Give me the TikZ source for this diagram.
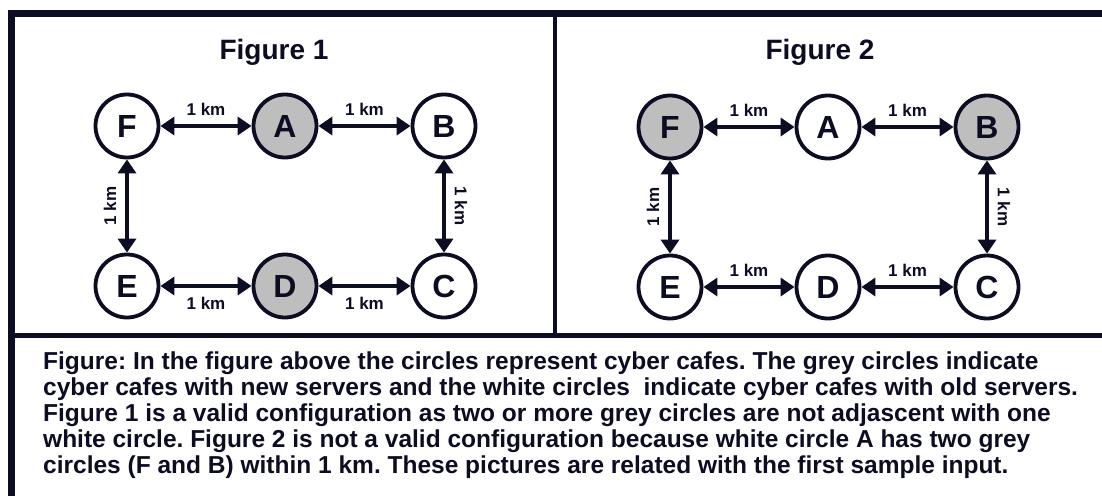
\documentclass[tikz,border=0pt]{standalone}
\usepackage{fontspec}
\setmainfont{Liberation Sans}
\usetikzlibrary{arrows.meta}
\definecolor{ink}{RGB}{12,12,34}
\definecolor{cafegrey}{RGB}{190,190,190}
\frenchspacing
\begin{document}
\begin{tikzpicture}[x=1pt,y=-1pt]
\useasboundingbox (0,0) rectangle (1102,495);
\fill[white] (0,0) rectangle (1102,495);
\tikzset{
  cafe/.style={circle, draw=ink, line width=3.8pt, minimum size=63pt, inner sep=0pt, fill=white,
    font=\fontsize{32}{32}\selectfont\bfseries, text=ink},
  greycafe/.style={cafe, fill=cafegrey},
  link/.style={draw=ink, line width=3.6pt, {Triangle[length=14pt,width=18pt]}-{Triangle[length=14pt,width=18pt]}},
  km/.style={font=\fontsize{17}{17}\selectfont\bfseries, inner sep=0pt, text=ink},
  figtitle/.style={font=\fontsize{28}{28}\selectfont\bfseries, text=ink},
  rule/.style={draw=ink}
}
% frame
\draw[rule, line width=7pt] (11,500) -- (11,13.5) -- (1108,13.5);
\draw[rule, line width=4.5pt] (555,13.5) -- (555,335);
\draw[rule, line width=5pt] (11,335) -- (1108,335);
% Figure 1
\node[figtitle] (t1) at (274,52) {Figure 1};
\node[cafe] (F1) at (127,126) {F};
\node[greycafe] (A1) at (285,126) {A};
\node[cafe] (B1) at (444,126) {B};
\node[cafe] (E1) at (127,286) {E};
\node[greycafe] (D1) at (285,286) {D};
\node[cafe] (C1) at (444,286) {C};
\draw[link] (F1) -- node[km, above=9pt] {1 km} (A1);
\draw[link] (A1) -- node[km, above=9pt] {1 km} (B1);
\draw[link] (E1) -- node[km, below=9pt] {1 km} (D1);
\draw[link] (D1) -- node[km, below=9pt] {1 km} (C1);
\draw[link] (F1) -- coordinate[midway] (m1) (E1);
\draw[link] (B1) -- coordinate[midway] (m2) (C1);
\node[km, rotate=90] (l1) at ([xshift=-17pt]m1) {1 km};
\node[km, rotate=-90] (l2) at ([xshift=17pt]m2) {1 km};
% Figure 2
\node[figtitle] (t2) at (820,52) {Figure 2};
\node[greycafe] (F2) at (670,127) {F};
\node[cafe] (A2) at (828,127) {A};
\node[greycafe] (B2) at (987,127) {B};
\node[cafe] (E2) at (670,287) {E};
\node[cafe] (D2) at (828,287) {D};
\node[cafe] (C2) at (987,287) {C};
\draw[link] (F2) -- node[km, above=9pt] {1 km} (A2);
\draw[link] (A2) -- node[km, above=9pt] {1 km} (B2);
\draw[link] (E2) -- node[km, above=9pt] {1 km} (D2);
\draw[link] (D2) -- node[km, above=9pt] {1 km} (C2);
\draw[link] (F2) -- coordinate[midway] (m3) (E2);
\draw[link] (B2) -- coordinate[midway] (m4) (C2);
\node[km, rotate=90] (l3) at ([xshift=-17pt]m3) {1 km};
\node[km, rotate=-90] (l4) at ([xshift=17pt]m4) {1 km};
% caption
\node[anchor=north west, align=left, inner sep=0pt, text=ink,
  font=\bfseries\fontsize{24.5}{26}\selectfont] (cap) at (43,352)
{Figure: In the figure above the circles represent cyber cafes. The grey circles indicate\\
cyber cafes with new servers and the white circles\ \ indicate cyber cafes with old servers.\\
Figure 1 is a valid configuration as two or more grey circles are not adjascent with one\\
white circle. Figure 2 is not a valid configuration because white circle A has two grey\\
circles (F and B) within 1 km. These pictures are related with the first sample input.};
\end{tikzpicture}
\end{document}
